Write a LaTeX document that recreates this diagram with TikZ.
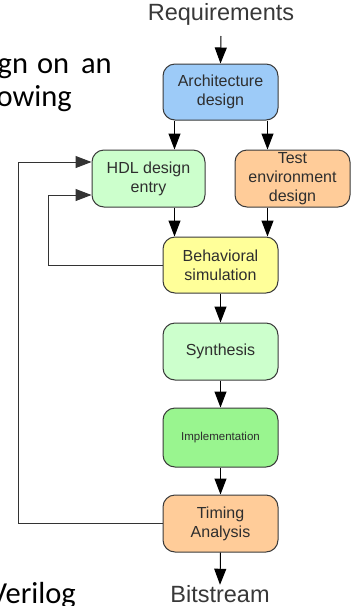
\documentclass[tikz,border=0pt]{standalone}
\usepackage{fontspec}
\setmainfont{Liberation Sans}
\newfontfamily\slidefont{Carlito}
\usetikzlibrary{arrows.meta}
\definecolor{boxline}{HTML}{3A3A3A}
\definecolor{boxtext}{HTML}{2E2E2E}
\definecolor{cblue}{HTML}{9DCBF8}
\definecolor{cpale}{HTML}{CCFFCC}
\definecolor{corange}{HTML}{FFCC99}
\definecolor{cyellow}{HTML}{FFFF99}
\definecolor{cgreen}{HTML}{99F58F}
\tikzset{
  stepbox/.style={draw=boxline, line width=1pt, rounded corners=12pt,
    minimum width=115pt, minimum height=57pt, align=center, text=boxtext,
    inner sep=0pt, font=\fontsize{16}{19}\selectfont},
  arr/.style={draw=black, line width=1pt, -{Triangle[length=16pt,width=12pt]}},
  fb/.style={draw=black!80, line width=1pt, -{Triangle[length=16pt,width=12pt]}},
  endtext/.style={font=\fontsize{23.5}{26}\selectfont, text=black!78, inner sep=0pt},
  slidetext/.style={font=\slidefont\fontsize{30.5}{33}\selectfont, inner sep=0pt, anchor=base east}
}
\begin{document}
\begin{tikzpicture}[x=1pt,y=-1pt]
\useasboundingbox (0,0) rectangle (359,606);
\clip (0,0) rectangle (359,606);
% clipped slide text
\node[slidetext] (s1) at (112,73) {gn\hspace{9pt}on\hspace{12pt}an};
\node[slidetext] (s2) at (72,106) {owing};
\node[slidetext] (s3) at (76,603) {Verilog};
% nodes
\node[endtext, anchor=base] (req) at (221,20) {Requirements};
\node[stepbox, fill=cblue, minimum height=56pt] (arch) at (220.5,92) {Architecture\\design};
\node[stepbox, fill=cpale, minimum width=113pt] (hdl) at (148.5,178.5) {HDL design\\entry};
\node[stepbox, fill=corange] (test) at (292.5,178.5) {Test\\environment\\design};
\node[stepbox, fill=cyellow, minimum height=56pt] (behav) at (220.5,265) {Behavioral\\simulation};
\node[stepbox, fill=cpale] (synth) at (220.5,351.5) {Synthesis};
\node[stepbox, fill=cgreen, minimum height=59pt, font=\fontsize{11.5}{13}\selectfont] (impl) at (220.5,437.5) {Implementation};
\node[stepbox, fill=corange] (timing) at (220.5,523.5) {Timing\\Analysis};
\node[endtext, anchor=base] (bit) at (220,602) {Bitstream};
% connectors
\draw[arr] (req.south |- 0,36) -- (arch.north);
\coordinate (aL) at ([xshift=12pt]arch.south west);
\coordinate (aR) at ([xshift=-11pt]arch.south east);
\draw[arr] (aL) -- (aL |- hdl.north);
\draw[arr] (aR) -- (aR |- test.north);
\draw[arr] (aL |- hdl.south) -- (aL |- behav.north);
\draw[arr] (aR |- test.south) -- (aR |- behav.north);
\draw[arr] (behav.south) -- (synth.north);
\draw[arr] (synth.south) -- (impl.north);
\draw[arr] (impl.south) -- (timing.north);
\draw[arr] (timing.south) -- (bit.north);
% feedback loops
\coordinate (hinTop) at ([yshift=16.5pt]hdl.west);
\coordinate (hinLow) at ([yshift=-16.5pt]hdl.west);
\draw[fb] (behav.west) -- (48,265) |- (hinLow);
\draw[fb] (timing.west) -- (18,523.5) |- (hinTop);
\end{tikzpicture}
\end{document}
